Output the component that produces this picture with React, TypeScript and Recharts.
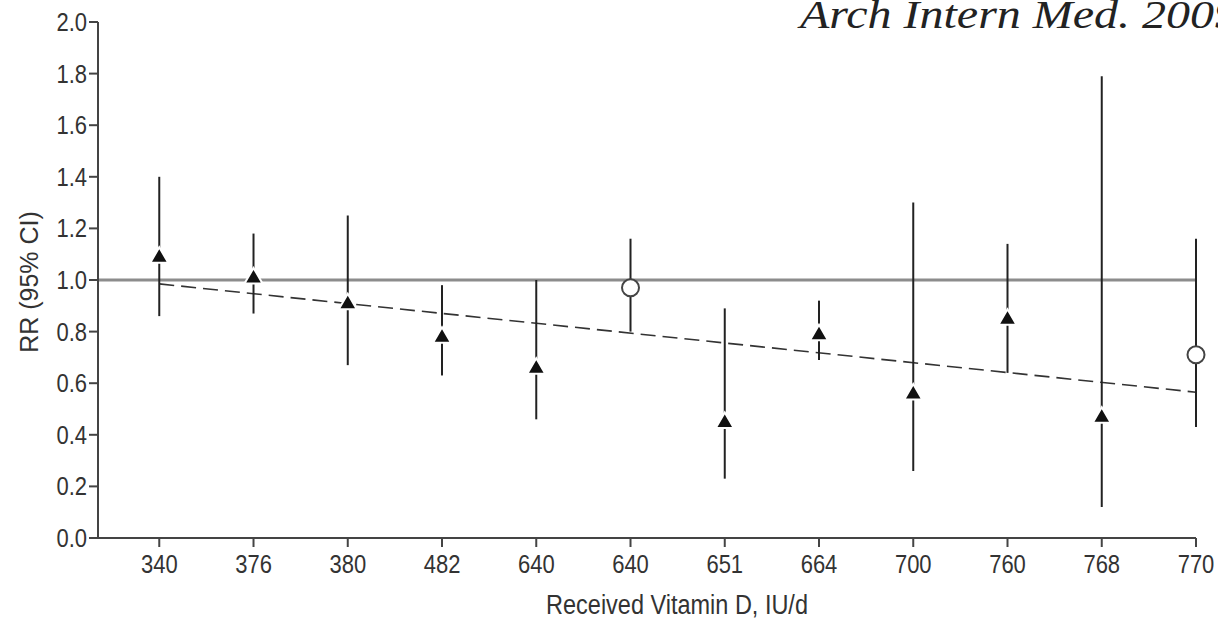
import React from "react";
import {
  ComposedChart,
  ErrorBar,
  Line,
  ReferenceLine,
  Scatter,
  XAxis,
  YAxis,
} from "recharts";

// received vitamin D dose per trial (IU/d)
const doses = ["340", "376", "380", "482", "640", "640", "651", "664", "700", "760", "768", "770"];
const rr = [1.09, 1.01, 0.91, 0.78, 0.66, 0.97, 0.45, 0.79, 0.56, 0.85, 0.47, 0.71];
const ciLow = [0.86, 0.87, 0.67, 0.63, 0.46, 0.8, 0.23, 0.69, 0.26, 0.64, 0.12, 0.43];
const ciHigh = [1.4, 1.18, 1.25, 0.98, 1.0, 1.16, 0.89, 0.92, 1.3, 1.14, 1.79, 1.16];
// open circles vs filled triangles
const openMarker = [false, false, false, false, false, true, false, false, false, false, false, true];
const trendEnds = [0.985, 0.565];
const yTicks = [0, 0.2, 0.4, 0.6, 0.8, 1.0, 1.2, 1.4, 1.6, 1.8, 2.0];

const points = doses.map((d, i) => ({
  idx: i,
  rr: rr[i],
  err: [rr[i] - ciLow[i], ciHigh[i] - rr[i]],
  open: openMarker[i],
}));
const closedPts = points.filter((p) => !p.open);
const openPts = points.filter((p) => p.open);
const trendData = [
  { idx: 0, y: trendEnds[0] },
  { idx: doses.length - 1, y: trendEnds[1] },
];

const FONT = "'Liberation Sans', Arial, sans-serif";
const INK = "#222";
const AXIS = "#444";
const TEXT = "#333";
const SQUEEZE = 0.88; // the original uses a condensed face

const Triangle = (props: any) => {
  const { cx, cy } = props;
  if (cx == null || cy == null) return null;
  return (
    <polygon
      points={`${cx},${cy - 9.5} ${cx - 9},${cy + 6} ${cx + 9},${cy + 6}`}
      fill="#111"
      stroke="#fff"
      strokeWidth={2}
    />
  );
};

const OpenCircle = (props: any) => {
  const { cx, cy } = props;
  if (cx == null || cy == null) return null;
  return <circle cx={cx} cy={cy} r={8.5} fill="#fff" stroke={AXIS} strokeWidth={2} />;
};

const XTick = (props: any) => {
  const { x, y, payload } = props;
  return (
    <g transform={`translate(${x},${y})`}>
      <text transform={`scale(${SQUEEZE},1)`} textAnchor="middle" dy={24} fontFamily={FONT} fontSize={25} fill={TEXT}>
        {doses[payload.value]}
      </text>
    </g>
  );
};

const YTick = (props: any) => {
  const { x, y, payload } = props;
  return (
    <g transform={`translate(${x},${y})`}>
      <text transform={`scale(${SQUEEZE},1)`} textAnchor="end" dy={9} fontFamily={FONT} fontSize={25} fill={TEXT}>
        {Number(payload.value).toFixed(1)}
      </text>
    </g>
  );
};

const XLabel = (props: any) => {
  const vb = props.viewBox || {};
  const x = (vb.x ?? 0) + (vb.width ?? 0) / 2 + 30;
  const y = (vb.y ?? 0) + 76;
  return (
    <g transform={`translate(${x},${y})`}>
      <text transform={`scale(0.87,1)`} textAnchor="middle" fontFamily={FONT} fontSize={27} fill={TEXT}>
        Received Vitamin D, IU/d
      </text>
    </g>
  );
};

const YLabel = (props: any) => {
  const vb = props.viewBox || {};
  const x = (vb.x ?? 0) + 29;
  const y = (vb.y ?? 0) + (vb.height ?? 0) / 2 + 2;
  return (
    <text
      x={x}
      y={y}
      transform={`rotate(-90, ${x}, ${y})`}
      textAnchor="middle"
      dominantBaseline="central"
      fontFamily={FONT}
      fontSize={25}
      fill={TEXT}
    >
      RR (95% CI)
    </text>
  );
};

export default function App() {
  return (
    <div style={{ position: "absolute", left: 0, top: 0, width: 1218, height: 619, overflow: "hidden", background: "#fff" }}>
      <div
        style={{
          position: "absolute",
          left: 800,
          top: -5,
          whiteSpace: "nowrap",
          fontFamily: "'Liberation Serif', 'Times New Roman', serif",
          fontStyle: "italic",
          fontSize: 40,
          lineHeight: "40px",
          color: "#222",
          transform: "scaleX(1.2)",
          transformOrigin: "left top",
        }}
      >
        Arch Intern Med. 2009
      </div>
      <ComposedChart width={1218} height={619} margin={{ top: 22, right: 22, bottom: 0, left: 0 }}>
        <XAxis
          type="number"
          dataKey="idx"
          domain={[-0.65, doses.length - 1]}
          ticks={doses.map((_, i) => i)}
          stroke={AXIS}
          strokeWidth={2}
          tickSize={9}
          height={81}
          tick={<XTick />}
          label={<XLabel />}
        />
        <YAxis
          type="number"
          domain={[0, 2]}
          ticks={yTicks}
          stroke={AXIS}
          strokeWidth={2}
          tickSize={9}
          width={98}
          tick={<YTick />}
          label={<YLabel />}
        />
        <ReferenceLine y={1} stroke="#8c8c8c" strokeWidth={3} />
        <Line
          data={trendData}
          dataKey="y"
          type="linear"
          stroke="#333"
          strokeWidth={1.6}
          strokeDasharray="15 7"
          dot={false}
          activeDot={false}
          isAnimationActive={false}
          legendType="none"
        />
        <Scatter data={closedPts} dataKey="rr" shape={Triangle} isAnimationActive={false}>
          <ErrorBar dataKey="err" direction="y" width={0} stroke={INK} strokeWidth={2} />
        </Scatter>
        <Scatter data={openPts} dataKey="rr" shape={OpenCircle} isAnimationActive={false}>
          <ErrorBar dataKey="err" direction="y" width={0} stroke={INK} strokeWidth={2} />
        </Scatter>
      </ComposedChart>
    </div>
  );
}
